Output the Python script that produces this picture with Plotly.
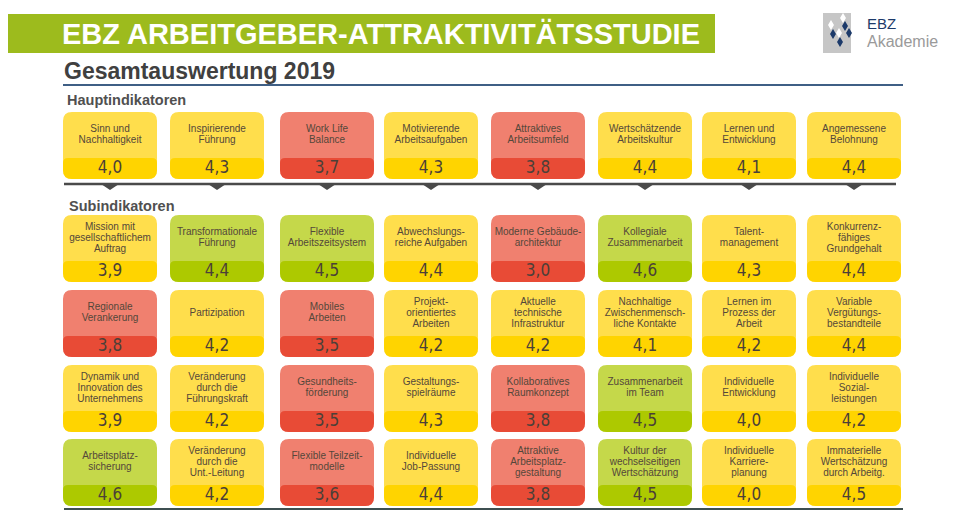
import plotly.graph_objects as go

# Hauptindikatoren
main_labels = ["Sinn und<br>Nachhaltigkeit", "Inspirierende<br>Führung", "Work Life<br>Balance",
               "Motivierende<br>Arbeitsaufgaben", "Attraktives<br>Arbeitsumfeld",
               "Wertschätzende<br>Arbeitskultur", "Lernen und<br>Entwicklung", "Angemessene<br>Belohnung"]
main_values = [4.0, 4.3, 3.7, 4.3, 3.8, 4.4, 4.1, 4.4]
main_levels = ["y", "y", "r", "y", "r", "y", "y", "y"]

# Subindikatoren, one list per row
sub_labels_1 = ["Mission mit<br>gesellschaftlichem<br>Auftrag", "Transformationale<br>Führung",
                "Flexible<br>Arbeitszeitsystem", "Abwechslungs-<br>reiche Aufgaben",
                "Moderne Gebäude-<br>architektur", "Kollegiale<br>Zusammenarbeit",
                "Talent-<br>management", "Konkurrenz-<br>fähiges<br>Grundgehalt"]
sub_values_1 = [3.9, 4.4, 4.5, 4.4, 3.0, 4.6, 4.3, 4.4]
sub_levels_1 = ["y", "g", "g", "y", "r", "g", "y", "y"]

sub_labels_2 = ["Regionale<br>Verankerung", "Partizipation", "Mobiles<br>Arbeiten",
                "Projekt-<br>orientiertes<br>Arbeiten", "Aktuelle<br>technische<br>Infrastruktur",
                "Nachhaltige<br>Zwischenmensch-<br>liche Kontakte", "Lernen im<br>Prozess der<br>Arbeit",
                "Variable<br>Vergütungs-<br>bestandteile"]
sub_values_2 = [3.8, 4.2, 3.5, 4.2, 4.2, 4.1, 4.2, 4.4]
sub_levels_2 = ["r", "y", "r", "y", "y", "y", "y", "y"]

sub_labels_3 = ["Dynamik und<br>Innovation des<br>Unternehmens", "Veränderung<br>durch die<br>Führungskraft",
                "Gesundheits-<br>förderung", "Gestaltungs-<br>spielräume", "Kollaboratives<br>Raumkonzept",
                "Zusammenarbeit<br>im Team", "Individuelle<br>Entwicklung", "Individuelle<br>Sozial-<br>leistungen"]
sub_values_3 = [3.9, 4.2, 3.5, 4.3, 3.8, 4.5, 4.0, 4.2]
sub_levels_3 = ["y", "y", "r", "y", "r", "g", "y", "y"]

sub_labels_4 = ["Arbeitsplatz-<br>sicherung", "Veränderung<br>durch die<br>Unt.-Leitung",
                "Flexible Teilzeit-<br>modelle", "Individuelle<br>Job-Passung",
                "Attraktive<br>Arbeitsplatz-<br>gestaltung", "Kultur der<br>wechselseitigen<br>Wertschätzung",
                "Individuelle<br>Karriere-<br>planung", "Immaterielle<br>Wertschätzung<br>durch Arbeitg."]
sub_values_4 = [4.6, 4.2, 3.6, 4.4, 3.8, 4.5, 4.0, 4.5]
sub_levels_4 = ["g", "y", "r", "y", "r", "g", "y", "y"]

# colours: (card top, value band)
colors = {"y": ("#FFDE4C", "#FFD400"),
          "r": ("#F0806F", "#E84B36"),
          "g": ("#C5D84A", "#ADC900")}

# layout constants (pixel units of the page; the body has an 8px margin)
page_off = 8
col_left = [63, 170, 280, 384, 491, 598, 702, 807]
card_w, card_h, band_h = 94, 67, 21
line_gap = 11
main_top = 112
sub_tops = [215, 290, 365, 439]
label_color = "#54473a"
value_color = "#4b4038"


def rounded(x0, y0, x1, y1, rt, rb):
    """SVG path of a box with rounded corners (y grows downward)"""
    return (f"M {x0 + rt},{y0} L {x1 - rt},{y0} Q {x1},{y0} {x1},{y0 + rt} "
            f"L {x1},{y1 - rb} Q {x1},{y1} {x1 - rb},{y1} L {x0 + rb},{y1} "
            f"Q {x0},{y1} {x0},{y1 - rb} L {x0},{y0 + rt} Q {x0},{y0} {x0 + rt},{y0} Z")


fig = go.Figure()
shapes = []
lab_x, lab_y, lab_t = [], [], []
val_x, val_y, val_t = [], [], []

rows = [(main_top, main_labels, main_values, main_levels),
        (sub_tops[0], sub_labels_1, sub_values_1, sub_levels_1),
        (sub_tops[1], sub_labels_2, sub_values_2, sub_levels_2),
        (sub_tops[2], sub_labels_3, sub_values_3, sub_levels_3),
        (sub_tops[3], sub_labels_4, sub_values_4, sub_levels_4)]

for top, labels, values, levels in rows:
    for i, (lab, val, lev) in enumerate(zip(labels, values, levels)):
        x0 = col_left[i]
        x1 = x0 + card_w
        y1 = top + card_h
        light, dark = colors[lev]
        shapes.append(dict(type="path", path=rounded(x0, top, x1, y1, 9, 9),
                           fillcolor=light, line=dict(width=0), layer="below"))
        shapes.append(dict(type="path", path=rounded(x0, y1 - band_h, x1, y1, 5, 9),
                           fillcolor=dark, line=dict(width=0), layer="below"))
        # each label line placed separately to keep the tight line spacing
        lines = lab.split("<br>")
        mid = top + (card_h - band_h) / 2
        for k, ln in enumerate(lines):
            lab_x.append(x0 + card_w / 2)
            lab_y.append(mid + (k - (len(lines) - 1) / 2) * line_gap)
            lab_t.append(ln)
        val_x.append(x0 + card_w / 2)
        val_y.append(y1 - band_h / 2)
        val_t.append(f"{val:.1f}".replace(".", ","))

fig.add_trace(go.Scatter(x=lab_x, y=lab_y, text=lab_t, mode="text", textposition="middle center",
                         textfont=dict(family="Liberation Sans, Arial", size=10, color=label_color),
                         hoverinfo="skip", showlegend=False))
fig.add_trace(go.Scatter(x=val_x, y=val_y, text=val_t, mode="text", textposition="middle center",
                         textfont=dict(family="Liberation Sans Narrow, Arial Narrow, DejaVu Sans Condensed",
                                       size=17, color=value_color),
                         hoverinfo="skip", showlegend=False))

# header bar and separators
shapes.append(dict(type="rect", x0=4, x1=715, y0=14, y1=53, fillcolor="#9DBB1D", line=dict(width=0)))
shapes.append(dict(type="line", x0=63, x1=903, y0=85, y1=85, line=dict(color="#3F5F85", width=2)))
shapes.append(dict(type="line", x0=64, x1=896, y0=184, y1=184, line=dict(color="#4A4A4A", width=2.5)))
shapes.append(dict(type="line", x0=64, x1=903, y0=509, y1=509, line=dict(color="#3E4F50", width=2)))
for x0 in col_left:
    cx = x0 + card_w / 2
    shapes.append(dict(type="path", path=f"M {cx - 9},{184} L {cx + 9},{184} L {cx},{190} Z",
                       fillcolor="#4A4A4A", line=dict(width=0)))

# logo
shapes.append(dict(type="rect", x0=823, x1=851, y0=13, y1=53, fillcolor="#C6C6C6", line=dict(width=0)))
for cx, cy, col in [(831, 25, "white"), (843, 18, "white"), (839, 33, "white"),
                    (833, 34, "#1C3A6A"), (845, 26, "#1C3A6A"), (849, 33, "#1C3A6A"), (840, 42, "#1C3A6A")]:
    shapes.append(dict(type="path", path=f"M {cx},{cy - 5} L {cx + 3},{cy} L {cx},{cy + 5} L {cx - 3},{cy} Z",
                       fillcolor=col, line=dict(width=0)))

annotations = [
    dict(x=60, y=34, text="<b>EBZ ARBEITGEBER-ATTRAKTIVITÄTSSTUDIE</b>", xanchor="left", yanchor="middle",
         font=dict(family="Liberation Sans, Arial", size=29, color="white")),
    dict(x=62, y=71, text="<b>Gesamtauswertung 2019</b>", xanchor="left", yanchor="middle",
         font=dict(family="Liberation Sans, Arial", size=23, color="#404040")),
    dict(x=65, y=100, text="<b>Hauptindikatoren</b>", xanchor="left", yanchor="middle",
         font=dict(family="Liberation Sans, Arial", size=14.5, color="#505050")),
    dict(x=67, y=206, text="<b>Subindikatoren</b>", xanchor="left", yanchor="middle",
         font=dict(family="Liberation Sans, Arial", size=14.5, color="#505050")),
    dict(x=865, y=23, text="EBZ", xanchor="left", yanchor="middle",
         font=dict(family="Liberation Sans, Arial", size=15, color="#1C3A6A")),
    dict(x=865, y=41, text="Akademie", xanchor="left", yanchor="middle",
         font=dict(family="Liberation Sans, Arial", size=16, color="#9A9A9A")),
]
for a in annotations:
    a.update(xref="x", yref="y", showarrow=False)

fig.update_layout(width=960 - page_off, height=510 - page_off, margin=dict(l=0, r=0, t=0, b=0),
                  paper_bgcolor="white", plot_bgcolor="white",
                  shapes=shapes, annotations=annotations, autosize=False)
fig.update_xaxes(range=[page_off, 960], visible=False, fixedrange=True)
fig.update_yaxes(range=[510, page_off], visible=False, fixedrange=True)

fig.write_html("out.html")
